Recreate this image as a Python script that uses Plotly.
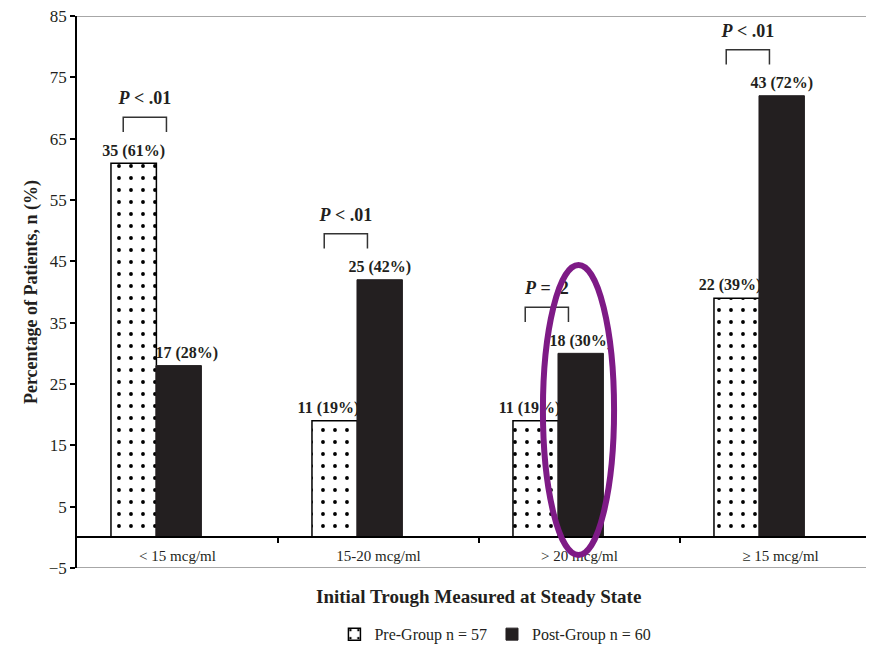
import plotly.graph_objects as go

categories = ["< 15 mcg/ml", "15-20 mcg/ml", "> 20 mcg/ml", "≥ 15 mcg/ml"]
pre_pct = [61, 19, 19, 39]
post_pct = [28, 42, 30, 72]
pre_n = [35, 11, 11, 22]
post_n = [17, 25, 18, 43]
p_labels = ["<b><i>P</i> < .01</b>", "<b><i>P</i> < .01</b>", "<b><i>P</i> = .2</b>", "<b><i>P</i> < .01</b>"]
y_ticks = [-5, 5, 15, 25, 35, 45, 55, 65, 75, 85]
series_names = ["Pre-Group n = 57", "Post-Group n = 60"]

FONT = "Liberation Serif, Times New Roman, serif"
DARK = "#231f20"
W_BAR = 0.226
OFF_PRE = -0.331
OFF_POST = -0.107

xs = list(range(len(categories)))

fig = go.Figure()
fig.add_trace(go.Bar(
    x=xs, y=pre_pct, width=W_BAR, offset=OFF_PRE, name=series_names[0],
    marker=dict(color="white", line=dict(color="black", width=1.5),
                pattern=dict(shape=".", size=12, solidity=0.08, fgcolor="black",
                             bgcolor="white", fillmode="replace")),
))
fig.add_trace(go.Bar(
    x=xs, y=post_pct, width=W_BAR, offset=OFF_POST, name=series_names[1],
    marker=dict(color=DARK, line=dict(color=DARK, width=1)),
))

# value labels: shorter bar's label anchored on shared edge, taller centered
shared = [i + OFF_PRE + W_BAR for i in xs]
for i in xs:
    pre_lbl = f"<b>{pre_n[i]} ({pre_pct[i]}%)</b>"
    post_lbl = f"<b>{post_n[i]} ({post_pct[i]}%)</b>"
    if pre_pct[i] < post_pct[i]:
        pre_pos, pre_x = "top left", shared[i] + 0.01
        post_pos, post_x = "top center", i + OFF_POST + W_BAR / 2
    else:
        pre_pos, pre_x = "top center", i + OFF_PRE + W_BAR / 2
        post_pos, post_x = "top right", shared[i] - 0.005
    fig.add_trace(go.Scatter(x=[pre_x], y=[pre_pct[i] + 0.6], mode="text", text=[pre_lbl],
                             textposition=pre_pos, showlegend=False, hoverinfo="skip",
                             textfont=dict(family=FONT, size=16, color=DARK)))
    fig.add_trace(go.Scatter(x=[post_x], y=[post_pct[i] + 0.6], mode="text", text=[post_lbl],
                             textposition=post_pos, showlegend=False, hoverinfo="skip",
                             textfont=dict(family=FONT, size=16, color=DARK)))
    # bracket
    top = max(pre_pct[i], post_pct[i]) + 7.5
    bx0, bx1 = i - 0.27, i - 0.055
    fig.add_trace(go.Scatter(x=[bx0, bx0, bx1, bx1], y=[top - 2.4, top, top, top - 2.4],
                             mode="lines", line=dict(color="#333", width=1.5),
                             showlegend=False, hoverinfo="skip"))
    fig.add_trace(go.Scatter(x=[(bx0 + bx1) / 2], y=[top + 1.4], mode="text", text=[p_labels[i]],
                             textposition="top center", showlegend=False, hoverinfo="skip",
                             textfont=dict(family=FONT, size=18, color=DARK)))

# page body has an 8px margin: figure coords = screen coords - 8
x_right = (874 - 77) / 201 - 0.5

fig.update_layout(
    width=866, height=639,
    margin=dict(l=69, r=0, t=8, b=79, autoexpand=False),
    paper_bgcolor="white", plot_bgcolor="white",
    font=dict(family=FONT, color=DARK),
    barmode="overlay",
    showlegend=True,
    legend=dict(orientation="h", x=0.525, xanchor="center", y=-0.12, yanchor="middle",
                font=dict(size=16, family=FONT, color=DARK), itemwidth=30,
                traceorder="normal"),
    xaxis=dict(range=[-0.5, x_right], tickvals=xs, ticktext=categories, ticks="",
               tickfont=dict(size=15, family=FONT, color=DARK), automargin=False,
               ticklabelstandoff=5, ticklabeloverflow="allow",
               showgrid=False, zeroline=False, showline=True, linecolor="black", linewidth=1.5,
               anchor="free", position=5 / 90,
               minor=dict(tickvals=[0.5, 1.5, 2.5], ticks="outside", ticklen=5,
                          tickcolor="black", tickwidth=1.5, showgrid=False)),
    yaxis=dict(range=[-5, 85], tickvals=y_ticks, ticks="outside", ticklen=5,
               tickcolor="black", tickwidth=1.5, automargin=False,
               ticklabeloverflow="allow",
               showline=True, linecolor="black", linewidth=1.5,
               showgrid=False, zeroline=False,
               tickfont=dict(size=17, family=FONT, color=DARK),
               title=dict(text="<b>Percentage of Patients, n (%)</b>",
                          font=dict(size=18, family=FONT, color=DARK), standoff=6)),
)

# top and bottom frame lines
for yv in [85, -5]:
    fig.add_shape(type="line", xref="paper", yref="y", x0=0, x1=1, y0=yv, y1=yv,
                  line=dict(color="#8a8a8a", width=1.5))

# x-axis title
fig.add_annotation(text="<b>Initial Trough Measured at Steady State</b>", xref="paper", yref="paper",
                   x=0.504, y=-0.0525, showarrow=False, yanchor="middle",
                   font=dict(size=19, family=FONT, color=DARK))

# purple highlight ellipse
fig.add_shape(type="circle", xref="x", yref="y", x0=1.818, x1=2.172, y0=-2.9, y1=44.4,
              line=dict(color="#7E1A86", width=6), layer="above")

fig.write_html("out.html")
